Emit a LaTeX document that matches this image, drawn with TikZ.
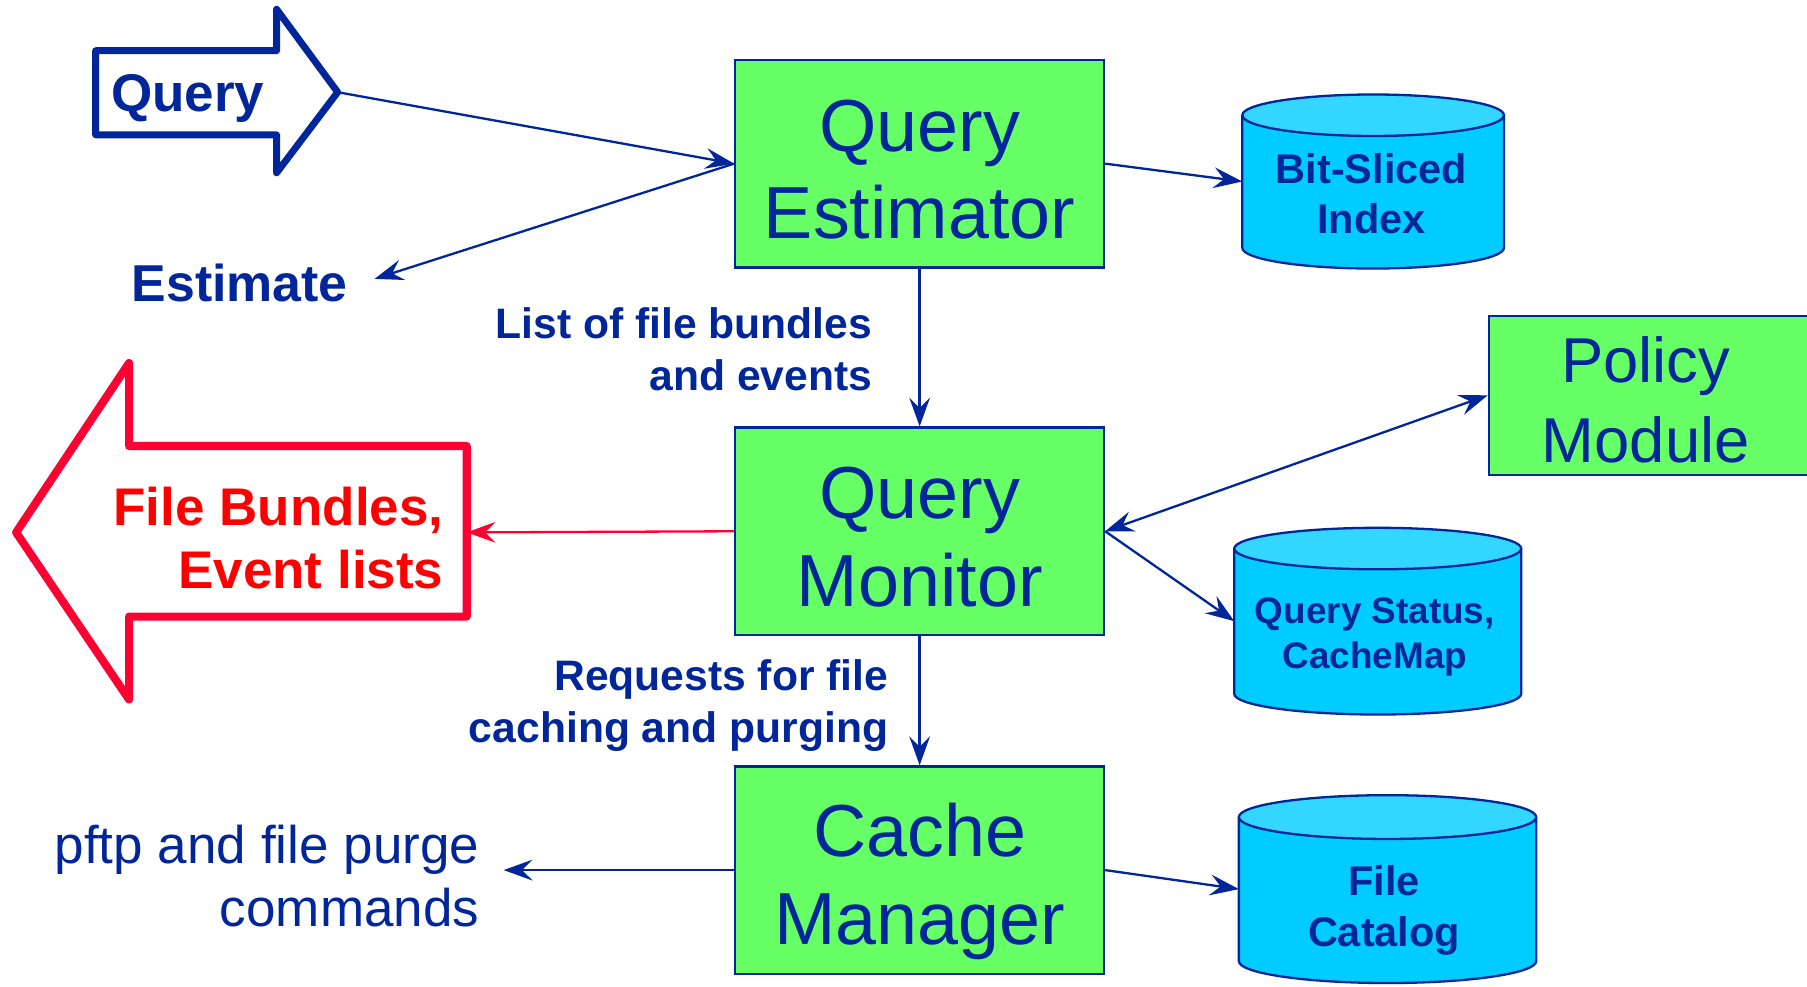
\documentclass[tikz,border=0pt]{standalone}
\usepackage{fontspec}
\setmainfont{Liberation Sans}
\usetikzlibrary{arrows.meta,calc}

\definecolor{navy}{RGB}{0,38,153}
\definecolor{boxgreen}{RGB}{102,255,102}
\definecolor{drumside}{RGB}{0,204,255}
\definecolor{drumlid}{RGB}{51,214,255}
\definecolor{alertred}{RGB}{255,0,51}
\definecolor{alerttext}{RGB}{255,0,0}

% database drum: #1 name, #2 centre x, #3 lid centre y, #4 base centre y,
% #5 half width, #6 rim half height
\newcommand\drum[6]{%
  \fill[drumside] (#2-#5,#3) -- (#2-#5,#4)
     arc[start angle=180,end angle=360,x radius=#5pt,y radius=#6pt] -- (#2+#5,#3) -- cycle;
  \draw[drumline] (#2-#5,#3) -- (#2-#5,#4)
     arc[start angle=180,end angle=360,x radius=#5pt,y radius=#6pt] -- (#2+#5,#3);
  \filldraw[drumline,fill=drumlid] (#2,#3) ellipse[x radius=#5pt,y radius=#6pt];
  \node[inner sep=0pt,outer sep=0pt,minimum width={2*#5*1pt},minimum height={(#4-#3)*1pt}]
     (#1) at (#2,{(#3+#4)/2}) {};
}

\begin{document}
\begin{tikzpicture}[x=1pt,y=-1pt,
  proc/.style={draw=navy,line width=2pt,fill=boxgreen,
    minimum width=320pt,minimum height=180pt,inner sep=0pt},
  proctext/.style={text=navy,font=\fontsize{64}{76}\selectfont,align=center,inner sep=0pt},
  drumline/.style={draw=navy,line width=2pt},
  drumlabel/.style={text=navy,font=\bfseries\fontsize{36}{43}\selectfont,align=center,inner sep=0pt},
  note/.style={text=navy,font=\bfseries\fontsize{37}{45}\selectfont,align=right,inner sep=0pt,anchor=east},
  conn/.style={draw=navy,line width=2pt,-{Stealth[length=25pt,width=18pt,inset=9pt]}},
  bigarrow/.style={line width=6pt,line join=round,line cap=round}]
\useasboundingbox (0,0) rectangle (1568,856);

% ---- the processing stages
\node[proc] (qe) at (798,142) {};
\node[proctext] (qetext) at (798,147) {Query\\Estimator};
\node[proc] (qm) at (798,461) {};
\node[proctext] (qmtext) at (798,466) {Query\\Monitor};
\node[proc] (cm) at (798,755) {};
\node[proctext] (cmtext) at (798,765) {Cache\\Manager};
\node[proc,minimum width=320pt,minimum height=138pt] (pm) at (1452,343) {};
\node[proctext,font=\fontsize{55}{69}\selectfont] (pmtext) at (1428,347) {Policy\\Module};

% ---- data stores
\drum{bsi}{1191.5}{100}{215}{113.5}{18}
\node[drumlabel] (bsitext) at (1190,168) {Bit-Sliced\\Index};
\drum{qs}{1195.5}{476}{602}{124.5}{18}
\node[drumlabel,font=\bfseries\fontsize{32}{39}\selectfont] (qstext) at (1193,553) {Query Status,\\CacheMap};
\drum{fc}{1204}{709}{834}{129}{19}
\node[drumlabel,font=\bfseries\fontsize{36}{44}\selectfont] (fctext) at (1201,790) {File\\Catalog};

% ---- incoming query (outlined block arrow)
\draw[bigarrow,draw=navy] (83,44) -- (240,44) -- (240,8) -- (293,80) -- (240,150)
  -- (240,117) -- (83,117) -- cycle;
\coordinate (qtip) at (293,80);
\node[text=navy,font=\bfseries\fontsize{46}{55}\selectfont,anchor=base,inner sep=0pt]
  (qlabel) at (163,97) {Query};

% ---- outgoing results (outlined block arrow)
\draw[bigarrow,line width=7pt,draw=alertred] (405,387) -- (112,387) -- (112,315) -- (14,462)
  -- (112,607) -- (112,535) -- (405,535) -- cycle;
\coordinate (fbtail) at (405,462);
\node[text=alerttext,font=\bfseries\fontsize{46}{55}\selectfont,align=right,
  inner sep=0pt,anchor=east] (fblabel) at (385,467) {File Bundles,\\Event lists};

% ---- free-standing labels
\node[text=navy,font=\bfseries\fontsize{45}{54}\selectfont,anchor=base,inner sep=0pt]
  (est) at (208,262) {Estimate};
\coordinate (estin) at (325,242);
\node[note] (lfb) at (757,303) {List of file bundles\\and events};
\node[note] (rfc) at (771,612) {Requests for file\\caching and purging};
\node[text=navy,font=\fontsize{46}{55}\selectfont,align=right,inner sep=0pt,anchor=east]
  (pftp) at (416,760) {pftp and file purge\\commands};
\coordinate (pftpin) at (437,755);

% ---- connectors
\draw[conn] (qtip) -- (qe.west);
\draw[conn] (qe.west) -- (estin);
\draw[conn] (qe.east) -- (bsi.west);
\draw[conn] (qe.south) -- (qm.north);
\draw[conn,draw=alertred] (qm.west) -- (fbtail);
\draw[conn,{Stealth[length=25pt,width=18pt,inset=9pt]}-{Stealth[length=25pt,width=18pt,inset=9pt]}] (qm.east) -- (pm.west);
\draw[conn] (qm.east) -- (qs.west);
\draw[conn] (qm.south) -- (cm.north);
\draw[conn] (cm.west) -- (pftpin);
\draw[conn] (cm.east) -- (fc.west);
\end{tikzpicture}
\end{document}
